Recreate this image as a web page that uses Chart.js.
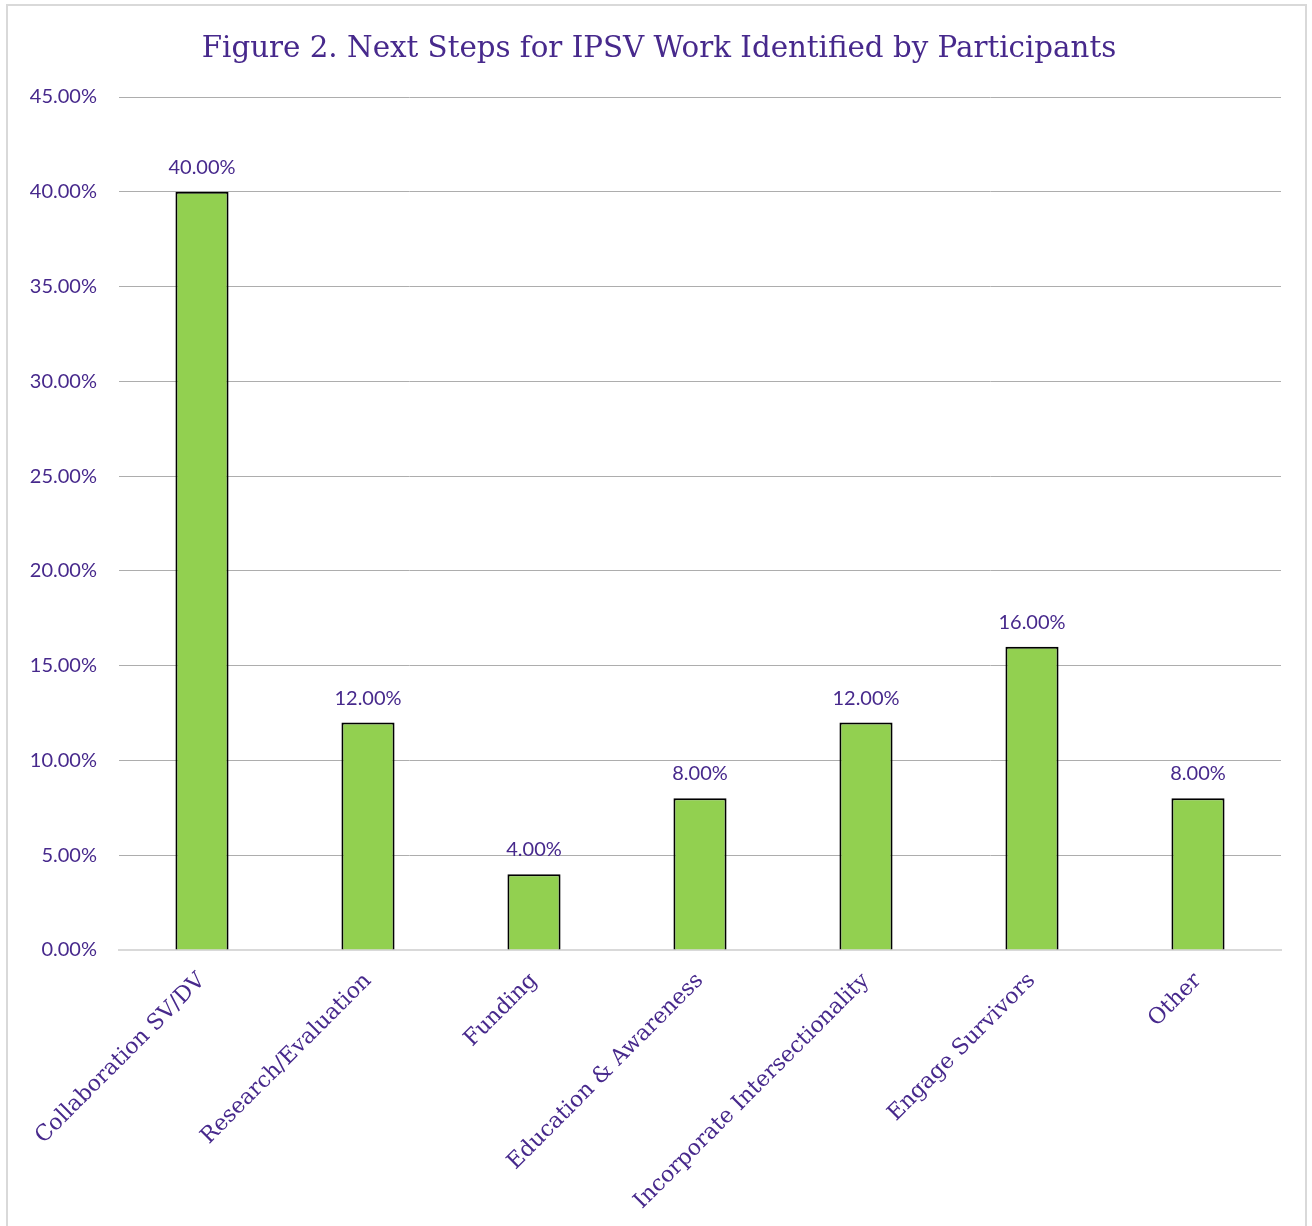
<!DOCTYPE html>
<html>
<head>
<meta charset="utf-8">
<script src="https://cdn.jsdelivr.net/npm/chart.js@4.4.1/dist/chart.umd.min.js"></script>
<style>
  html,body{margin:0;padding:0;background:#fff;}
  body{width:1312px;height:1226px;overflow:hidden;position:relative;}
  .frame{position:absolute;left:6px;top:4px;width:1301px;height:1240px;border:2px solid #d9d9d9;box-sizing:border-box;}
  .wrap{position:absolute;left:0;top:0;width:1312px;height:1226px;}
</style>
</head>
<body>
<div class="frame"></div>
<div class="wrap"><canvas id="chart"></canvas></div>
<script>
const titleText='Figure 2. Next Steps for IPSV Work Identified by Participants';
const categories=['Collaboration SV/DV','Research/Evaluation','Funding','Education & Awareness','Incorporate Intersectionality','Engage Survivors','Other'];
const shares=[40,12,4,8,12,16,8];
const yTicks=[0,5,10,15,20,25,30,35,40,45];

const purple='#47298c';

// title is centred on the whole frame, not on the plot, so it is drawn here
const frameTitle={
  id:'frameTitle',
  afterDraw(chart){
    const { ctx }=chart;
    ctx.save();
    ctx.fillStyle=purple;
    ctx.font='29.3px "DejaVu Serif"';
    ctx.textAlign='center';
    ctx.textBaseline='middle';
    ctx.fillText(titleText, 659, 49);
    ctx.restore();
  }
};

const barLabels={
  id:'barLabels',
  afterDatasetsDraw(chart){
    const { ctx }=chart;
    const meta=chart.getDatasetMeta(0);
    ctx.save();
    ctx.fillStyle=purple;
    ctx.font='20px Lato';
    ctx.textAlign='center';
    ctx.textBaseline='alphabetic';
    meta.data.forEach((bar,i)=>{
      ctx.fillText(shares[i].toFixed(2)+'%', bar.x, bar.y-18);
    });
    ctx.restore();
  }
};

new Chart(document.getElementById('chart'),{
  type:'bar',
  data:{
    labels:categories,
    datasets:[{
      data:shares,
      backgroundColor:'#92d050',
      borderColor:'#000',
      borderWidth:2,
      barPercentage:0.32,
      categoryPercentage:1
    }]
  },
  options:{
    responsive:true,
    maintainAspectRatio:false,
    animation:false,
    layout:{ padding:{ left:0, right:31, top:97, bottom:0 } },
    plugins:{
      legend:{ display:false },
      tooltip:{ enabled:false },
      title:{ display:false }
    },
    scales:{
      x:{
        grid:{ display:false, drawTicks:false },
        border:{ display:true, color:'#d9d9d9', width:2 },
        ticks:{
          color:purple,
          font:{ family:'DejaVu Serif', size:22 },
          maxRotation:45, minRotation:45,
          padding:18, autoSkip:false
        },
        afterFit(scale){ scale.height=276; }
      },
      y:{
        min:0, max:45,
        afterBuildTicks(scale){ scale.ticks=yTicks.map(v=>({ value:v })); },
        grid:{ color:'#adadad', lineWidth:1, drawTicks:false },
        border:{ display:false },
        ticks:{
          color:purple,
          font:{ family:'Lato', size:20 },
          padding:22,
          callback:(v)=> v.toFixed(2)+'%'
        },
        afterFit(scale){ scale.width=119; }
      }
    }
  },
  plugins:[barLabels,frameTitle]
});
</script>
</body>
</html>
